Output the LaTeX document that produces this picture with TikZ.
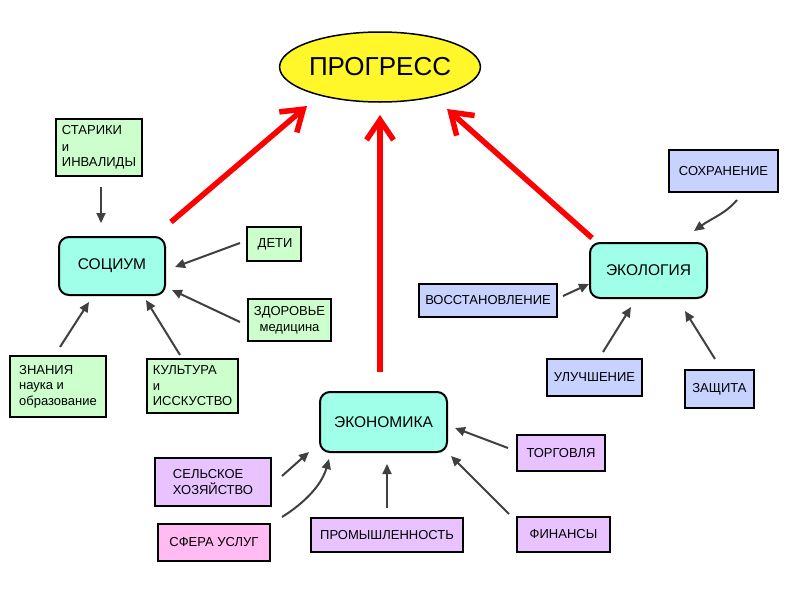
\documentclass[tikz,border=0pt]{standalone}
\usepackage{fontspec}
\setmainfont{Liberation Sans}
\usetikzlibrary{arrows.meta,shapes.geometric}
\definecolor{cgreen}{HTML}{CCFFCC}
\definecolor{ccyan}{HTML}{A0FFE8}
\definecolor{cblue}{HTML}{C8D2FF}
\definecolor{cpurple}{HTML}{E8C3FF}
\definecolor{cpink}{HTML}{FFBBF2}
\definecolor{cyellow}{HTML}{FFF72A}
\definecolor{cgray}{HTML}{404040}
\tikzset{
  box/.style={draw=black, line width=2pt, inner sep=0pt, align=left,
    font=\fontsize{13}{15.5}\selectfont},
  gbox/.style={box, fill=cgreen},
  bbox/.style={box, fill=cblue},
  pbox/.style={box, fill=cpurple},
  mainbox/.style={draw=black, line width=2pt, rounded corners=10pt, fill=ccyan,
    inner sep=0pt, font=\fontsize{15.5}{18}\selectfont},
  garrow/.style={draw=cgray, line width=2pt, -{Triangle[length=10pt,width=9pt]}},
  rarrow/.style={draw=red, line width=5.5pt, -{Straight Barb[length=20pt,width=27pt]}},
}
\begin{document}
\begin{tikzpicture}[x=1pt,y=-1pt]
\useasboundingbox[fill=white] (0,0) rectangle (800,600);

% central node
\node[ellipse, draw=black, line width=1.5pt, fill=cyellow, minimum width=181pt,
  minimum height=70pt, inner sep=0pt, font=\fontsize{26}{30}\selectfont] (prog) at (380,67) {ПРОГРЕСС};

% main nodes
\node[mainbox, minimum width=106pt, minimum height=58pt] (soc) at (112,266) {СОЦИУМ};
\node[mainbox, minimum width=117pt, minimum height=55pt] (eco) at (648.5,270.5) {ЭКОЛОГИЯ};
\node[mainbox, minimum width=127pt, minimum height=60pt] (econ) at (383.5,422) {ЭКОНОМИКА};

% socium boxes
\node[gbox, minimum width=86pt, minimum height=57pt] (old) at (99,147.5)
  {СТАРИКИ\\[1pt]и\\ИНВАЛИДЫ};
\node[gbox, minimum width=54pt, minimum height=34pt] (kids) at (274,244) {\,ДЕТИ};
\node[gbox, minimum width=83pt, minimum height=42pt, align=center] (health) at (289.5,320)
  {ЗДОРОВЬЕ\\медицина};
\node[gbox, minimum width=96pt, minimum height=61pt] (know) at (58,386.5)
  {ЗНАНИЯ\\наука и\\образование};
\node[gbox, minimum width=91pt, minimum height=54pt] (cult) at (192.5,386)
  {КУЛЬТУРА\\и\\ИССКУСТВО};

% ecology boxes
\node[bbox, minimum width=109pt, minimum height=42pt] (save) at (723.5,171) {СОХРАНЕНИЕ};
\node[bbox, minimum width=138pt, minimum height=33pt] (rest) at (488,300.5) {ВОССТАНОВЛЕНИЕ};
\node[bbox, minimum width=95pt, minimum height=37pt] (impr) at (594.5,377.5) {УЛУЧШЕНИЕ};
\node[bbox, minimum width=69pt, minimum height=38pt] (prot) at (719.5,389) {ЗАЩИТА};

% economy boxes
\node[pbox, minimum width=116pt, minimum height=48pt] (agri) at (213,482)
  {СЕЛЬСКОЕ\\ХОЗЯЙСТВО};
\node[box, fill=cpink, minimum width=112pt, minimum height=37pt] (serv) at (214,542.5) {СФЕРА УСЛУГ};
\node[pbox, minimum width=152pt, minimum height=34pt] (ind) at (387,535) {ПРОМЫШЛЕННОСТЬ};
\node[pbox, minimum width=88pt, minimum height=36pt] (trade) at (561,453) {ТОРГОВЛЯ};
\node[pbox, minimum width=93pt, minimum height=35pt] (fin) at (563.5,534.5) {ФИНАНСЫ};

% connector end points
\coordinate (r1s) at (171,222); \coordinate (r1e) at (307,106);
\coordinate (r2s) at (380,372); \coordinate (r2e) at (380,115);
\coordinate (r3s) at (592,238); \coordinate (r3e) at (447,109);

\coordinate (a1s) at (101,187); \coordinate (a1e) at (101,223);
\coordinate (a2s) at (240,243); \coordinate (a2e) at (175,267);
\coordinate (a3s) at (240,322); \coordinate (a3e) at (172,290);
\coordinate (a4s) at (60,347);  \coordinate (a4e) at (89,302);
\coordinate (a5s) at (180,355); \coordinate (a5e) at (146,300);

\coordinate (b1s) at (737,200); \coordinate (b1e) at (694,231);
\coordinate (b2s) at (563,296); \coordinate (b2e) at (589,284);
\coordinate (b3s) at (603,352); \coordinate (b3e) at (631,307);
\coordinate (b4s) at (715,359); \coordinate (b4e) at (685,311);

\coordinate (c1s) at (282,476); \coordinate (c1e) at (309,452);
\coordinate (c2s) at (282,517); \coordinate (c2e) at (329,459);
\coordinate (c3s) at (387,508); \coordinate (c3e) at (387,464);
\coordinate (c4s) at (508,448); \coordinate (c4e) at (455,428);
\coordinate (c5s) at (509,514); \coordinate (c5e) at (451,456);

% red arrows
\draw[rarrow] (r1s) -- (r1e);
\draw[rarrow] (r2s) -- (r2e);
\draw[rarrow] (r3s) -- (r3e);

% gray arrows
\draw[garrow] (a1s) -- (a1e);
\draw[garrow] (a2s) -- (a2e);
\draw[garrow] (a3s) -- (a3e);
\draw[garrow] (a4s) -- (a4e);
\draw[garrow] (a5s) -- (a5e);

\draw[garrow] (b1s) .. controls (725,214) and (712,218) .. (b1e);
\draw[garrow] (b2s) -- (b2e);
\draw[garrow] (b3s) -- (b3e);
\draw[garrow] (b4s) -- (b4e);

\draw[garrow] (c1s) -- (c1e);
\draw[garrow] (c2s) .. controls (306,502) and (322,484) .. (c2e);
\draw[garrow] (c3s) -- (c3e);
\draw[garrow] (c4s) -- (c4e);
\draw[garrow] (c5s) -- (c5e);
\end{tikzpicture}
\end{document}
